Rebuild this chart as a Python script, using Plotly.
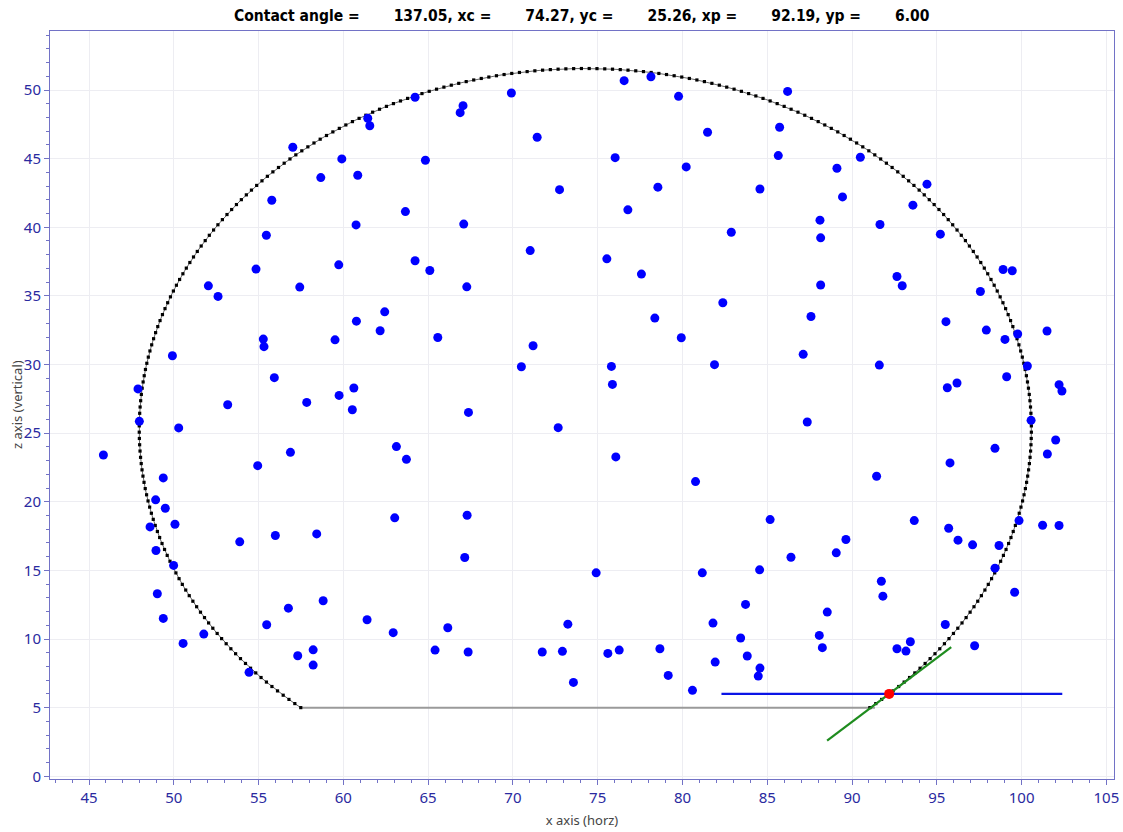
import numpy as np
import plotly.graph_objects as go

# Fit results shown in the title
contact_angle = 137.05
xc, yc = 74.27, 25.26
xp, yp = 92.19, 6.00
baseline_z = 5.0

# Measured droplet profile points (x, z)
drop_x = [
    61.44, 61.56, 57.02, 59.91, 60.85, 58.67, 55.78, 63.66, 60.75, 55.46,
    59.73, 54.85, 57.43, 52.04, 52.61, 62.44, 60.77, 62.17, 55.28, 55.32,
    59.51, 49.92, 55.93, 47.89, 60.62, 59.75, 53.18, 57.84, 60.53,
    47.97, 50.29, 45.85, 56.88, 54.95, 63.13, 63.72, 49.38, 48.93, 49.50,
    48.60, 50.07, 63.03, 53.89, 55.99, 58.43, 48.95, 49.99, 49.03, 58.81,
    56.76, 49.38, 55.48, 61.40, 62.94, 51.77, 50.55, 58.22, 57.31, 58.22,
    54.44,
    64.23, 67.06, 66.89, 69.91, 76.56, 78.14, 79.77, 71.43, 81.48, 64.84,
    76.03, 80.22, 72.75, 78.55, 84.57, 76.78, 67.10, 82.88, 71.02, 75.54,
    64.23, 65.10, 77.58, 67.28, 82.38, 78.37, 65.57, 79.93, 71.19, 70.50,
    75.81, 81.89, 75.87, 67.38,
    86.20, 85.73, 85.65, 90.49, 89.11, 89.44, 94.42, 93.59, 88.11, 88.15,
    91.65, 95.21, 98.91, 99.45, 92.65, 92.96, 88.15, 97.57, 87.58, 95.54,
    97.92, 99.02, 99.77, 101.50, 87.12, 91.61, 100.34, 99.12, 96.19, 95.62,
    102.21, 102.38,
    72.67, 76.07, 80.77, 67.30, 67.16, 74.91, 81.17, 84.55, 85.17, 83.72,
    66.16, 73.24, 81.80, 83.43, 65.41, 67.36, 71.73, 72.92, 75.60, 76.27,
    78.67, 81.93, 83.82, 73.57, 79.16, 80.59, 84.57, 84.47,
    87.36, 100.56, 102.01, 101.52, 98.43, 95.78, 91.45, 93.67, 95.70, 96.25,
    97.11, 98.67, 99.85, 101.24, 102.21, 89.64, 89.07, 86.40, 98.43, 91.73,
    91.82, 99.59, 88.54, 95.50, 88.07, 88.25, 93.44, 92.65, 93.18, 97.23,
]
drop_z = [
    47.94, 47.40, 45.83, 44.98, 43.79, 43.62, 41.97, 41.14, 40.17, 39.42,
    37.26, 36.95, 35.64, 35.73, 34.96, 33.84, 33.16, 32.46, 31.85, 31.30,
    31.80, 30.64, 29.04, 28.22, 28.29, 27.75, 27.07, 27.24, 26.70,
    25.86, 25.38, 23.41, 23.60, 22.63, 24.02, 23.09, 21.74, 20.14, 19.53,
    18.17, 18.36, 18.83, 17.08, 17.54, 17.66, 16.45, 15.36, 13.30, 12.79,
    12.25, 11.50, 11.04, 11.40, 10.46, 10.36, 9.68, 9.21, 8.78, 8.10,
    7.57,
    49.47, 48.86, 48.35, 49.78, 50.68, 50.97, 49.54, 46.56, 46.92, 44.88,
    45.07, 44.40, 42.74, 42.92, 42.79, 41.27, 40.23, 39.64, 38.30, 37.70,
    37.56, 36.85, 36.59, 35.66, 34.50, 33.38, 31.97, 31.95, 31.37, 29.84,
    29.86, 29.99, 28.55, 26.51,
    49.90, 47.29, 45.22, 45.10, 44.30, 42.21, 43.14, 41.61, 40.52, 39.23,
    40.20, 39.50, 36.92, 36.83, 36.41, 35.74, 35.79, 35.32, 33.50, 33.12,
    32.51, 31.83, 32.22, 32.44, 30.74, 29.96, 29.89, 29.11, 28.65, 28.31,
    28.53, 28.07,
    25.40, 23.27, 21.47, 19.02, 15.94, 14.82, 14.82, 15.04, 18.70, 12.52,
    10.82, 11.08, 11.16, 10.07, 9.19, 9.05, 9.05, 9.10, 8.95, 9.19,
    9.29, 8.32, 8.76, 6.84, 7.35, 6.26, 7.88, 7.30,
    25.81, 25.93, 24.50, 23.48, 23.89, 22.83, 21.86, 18.63, 18.07, 17.20,
    16.86, 16.81, 18.63, 18.29, 18.27, 17.25, 16.28, 15.96, 15.16, 14.21,
    13.12, 13.41, 11.96, 11.06, 10.26, 9.37, 9.80, 9.29, 9.12, 9.51,
]

# Baseline reference segment (y = yp) drawn in blue
ref_x = [82.3, 102.4]
ref_z = [yp, yp]

x_ticks = list(range(45, 106, 5))
z_ticks = list(range(0, 51, 5))

# Fitted circle through the contact point, cut at the baseline
r = np.hypot(xp - xc, yp - yc)
half_chord = np.sqrt(r ** 2 - (baseline_z - yc) ** 2)
a0 = np.degrees(np.arctan2(baseline_z - yc, half_chord))
a1 = 180.0 - a0
ang = np.radians(np.linspace(a0, a1, int(round(a1 - a0)) + 1))
arc_x = xc + r * np.cos(ang)
arc_z = yc + r * np.sin(ang)

# Tangent line at the contact point
theta = np.radians(180.0 - contact_angle)
half_len = 5.0
tan_x = [xp - half_len * np.cos(theta), xp + half_len * np.cos(theta)]
tan_z = [yp - half_len * np.sin(theta), yp + half_len * np.sin(theta)]

fig = go.Figure()

fig.add_trace(go.Scatter(
    x=[xc - half_chord, xc + half_chord + 0.3], y=[baseline_z, baseline_z],
    mode="lines", line=dict(color="#9a9a9a", width=2), hoverinfo="skip"))

fig.add_trace(go.Scatter(
    x=arc_x, y=arc_z, mode="lines+markers",
    line=dict(color="#666666", width=1),
    marker=dict(color="black", size=3.2, symbol="square"), hoverinfo="skip"))

fig.add_trace(go.Scatter(
    x=drop_x, y=drop_z, mode="markers",
    marker=dict(color="#0000ff", size=9, line=dict(width=0))))

fig.add_trace(go.Scatter(
    x=ref_x, y=ref_z, mode="lines", line=dict(color="#0a14e6", width=2.2)))

fig.add_trace(go.Scatter(
    x=tan_x, y=tan_z, mode="lines", line=dict(color="#1e8c1e", width=2.2)))

fig.add_trace(go.Scatter(
    x=[xp], y=[yp], mode="markers",
    marker=dict(color="#ff0000", size=10, line=dict(width=0))))

sp = "\u00a0" * 7
title = (f"Contact angle ={sp}{contact_angle:.2f}, xc ={sp}{xc:.2f}, "
         f"yc ={sp}{yc:.2f}, xp ={sp}{xp:.2f}, yp ={sp}{yp:.2f}")

axis_col = "#7272c6"
tick_col = "#2a2aa0"

fig.update_layout(
    width=1123, height=832,
    margin=dict(l=50, r=9, t=31, b=53),
    paper_bgcolor="white", plot_bgcolor="white",
    showlegend=False,
    title=dict(text=f"<b>{title}</b>", x=0.518, xanchor="center",
               y=1 - 16 / 832, yanchor="middle", yref="container",
               font=dict(family="DejaVu Sans Condensed", size=15.5, color="black")),
    xaxis=dict(
        range=[42.7, 105.45], tickvals=x_ticks, ticks="outside", ticklen=5,
        tickcolor=axis_col, showline=True, linecolor=axis_col, linewidth=1,
        mirror=True, showgrid=True, gridcolor="#ededf2", zeroline=False,
        automargin=False,
        tickfont=dict(family="Noto Sans", size=15, color=tick_col),
        minor=dict(dtick=1, ticks="outside", ticklen=3, tickcolor=axis_col,
                   showgrid=False),
        title=dict(text="x axis (horz)", standoff=9,
                   font=dict(family="Noto Sans", size=13, color="#444444")),
    ),
    yaxis=dict(
        range=[-0.2, 54.3], tickvals=z_ticks, ticks="outside", ticklen=5,
        tickcolor=axis_col, showline=True, linecolor=axis_col, linewidth=1,
        mirror=True, showgrid=True, gridcolor="#ededf2", zeroline=False,
        automargin=False,
        tickfont=dict(family="Noto Sans", size=15, color=tick_col),
        minor=dict(dtick=1, ticks="outside", ticklen=3, tickcolor=axis_col,
                   showgrid=False),
    ),
    annotations=[dict(
        text="z axis (vertical)", textangle=-90, showarrow=False,
        xref="paper", yref="paper", x=-33 / 1064, y=0.5,
        xanchor="center", yanchor="middle",
        font=dict(family="Noto Sans", size=13, color="#444444"))],
)

fig.write_html("out.html")
